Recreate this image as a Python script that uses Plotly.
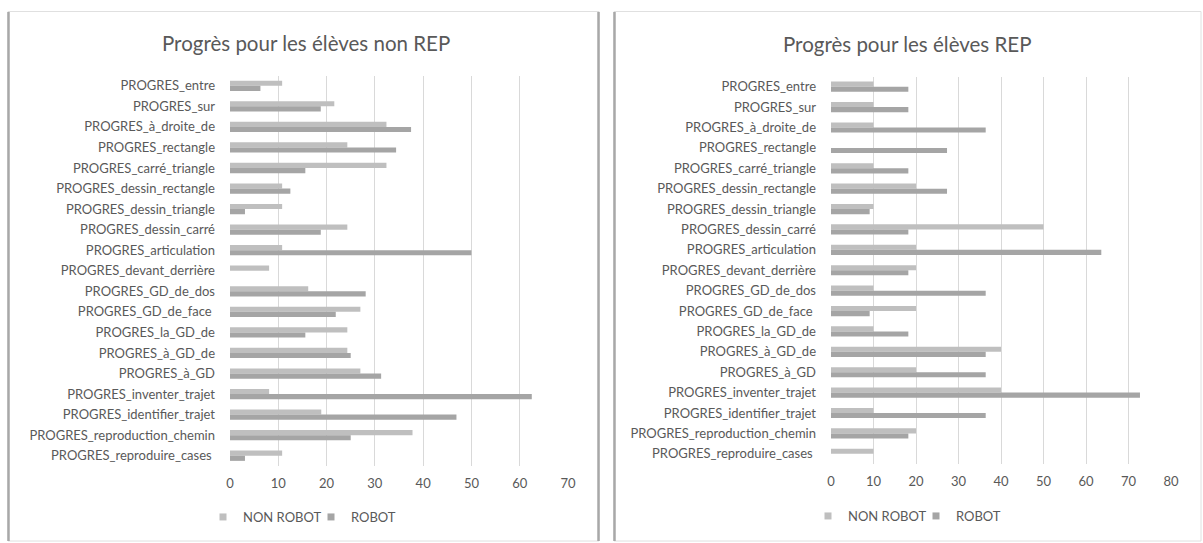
import plotly.graph_objects as go

categories = [
    "PROGRES_entre", "PROGRES_sur", "PROGRES_à_droite_de", "PROGRES_rectangle",
    "PROGRES_carré_triangle", "PROGRES_dessin_rectangle", "PROGRES_dessin_triangle",
    "PROGRES_dessin_carré", "PROGRES_articulation", "PROGRES_devant_derrière",
    "PROGRES_GD_de_dos", "PROGRES_GD_de_face ", "PROGRES_la_GD_de", "PROGRES_à_GD_de",
    "PROGRES_à_GD", "PROGRES_inventer_trajet", "PROGRES_identifier_trajet",
    "PROGRES_reproduction_chemin", "PROGRES_reproduire_cases ",
]

non_rep_non_robot = [10.8, 21.6, 32.4, 24.3, 32.4, 10.8, 10.8, 24.3, 10.8, 8.1,
                     16.2, 27.0, 24.3, 24.3, 27.0, 8.1, 18.9, 37.8, 10.8]
non_rep_robot = [6.3, 18.8, 37.5, 34.4, 15.6, 12.5, 3.1, 18.8, 50.0, 0,
                 28.1, 21.9, 15.6, 25.0, 31.3, 62.5, 46.9, 25.0, 3.1]

rep_non_robot = [10, 10, 10, 0, 10, 20, 10, 50, 20, 20,
                 10, 20, 10, 40, 20, 40, 10, 20, 10]
rep_robot = [18.2, 18.2, 36.4, 27.3, 18.2, 27.3, 9.1, 18.2, 63.6, 18.2,
             36.4, 9.1, 18.2, 36.4, 36.4, 72.7, 36.4, 18.2, 0]

series_names = ["NON ROBOT", "ROBOT"]
titles = ["Progrès pour les élèves non REP", "Progrès pour les élèves REP"]
x_max = [70, 80]

W, H = 1203, 543
FONT = "Lato"
TXT = "#595959"
C_NON = "#bfbfbf"
C_ROB = "#a5a5a5"
COLORS = [C_NON, C_ROB]


def X(px):
    return px / W


def Y(py):
    return 1 - py / H


fig = go.Figure()

panels = [
    ("x", "y", "legend", [non_rep_non_robot, non_rep_robot]),
    ("x2", "y2", "legend2", [rep_non_robot, rep_robot]),
]
for xa, ya, lg, series in panels:
    for name, vals, col in zip(series_names, series, COLORS):
        fig.add_trace(go.Bar(y=categories, x=vals, name=name, orientation="h",
                             marker_color=col, xaxis=xa, yaxis=ya, showlegend=False,
                             hovertemplate="%{y}: %{x}<extra>" + name + "</extra>"))
    # legend keys (small squares, like the original chart)
    for name, col in zip(series_names, COLORS):
        fig.add_trace(go.Scatter(x=[None], y=[None], mode="markers", name=name,
                                 marker=dict(symbol="square", size=7, color=col),
                                 xaxis=xa, yaxis=ya, legend=lg, showlegend=True))

xcommon = dict(showgrid=True, gridcolor="#d9d9d9", gridwidth=1, zeroline=False, showline=False,
               dtick=10, ticks="", tickfont=dict(family=FONT, size=13, color=TXT),
               automargin=False, fixedrange=True, ticklabelstandoff=8)
ycommon = dict(type="category", autorange="reversed", showgrid=False, zeroline=False,
               showline=False, ticks="", tickfont=dict(family=FONT, size=13, color=TXT),
               automargin=False, fixedrange=True, ticklabelstandoff=14)

shapes = []
for (x0, x1) in [(8, 599), (614, 1201)]:
    shapes.append(dict(type="rect", xref="paper", yref="paper", x0=X(x0), x1=X(x1),
                       y0=Y(541), y1=Y(11.5), line=dict(color="#e0e0e0", width=1),
                       fillcolor="rgba(0,0,0,0)", layer="below"))
for xl in [8.5, 598.5, 614.5]:
    shapes.append(dict(type="line", xref="paper", yref="paper", x0=X(xl), x1=X(xl),
                       y0=Y(541), y1=Y(12), line=dict(color="#a8a8a8", width=2.5),
                       layer="below"))

legend_common = dict(orientation="h", xanchor="left", yanchor="middle",
                     font=dict(family=FONT, size=13, color=TXT), bgcolor="rgba(0,0,0,0)",
                     traceorder="normal", entrywidth=63, itemwidth=30, itemsizing="trace")

fig.update_layout(
    width=W, height=H,
    margin=dict(l=0, r=0, t=0, b=0),
    paper_bgcolor="white", plot_bgcolor="white",
    template="none",
    barmode="group", bargap=0.5, bargroupgap=0,
    xaxis=dict(domain=[X(230), X(568)], range=[0, x_max[0]], anchor="y", **xcommon),
    yaxis=dict(domain=[Y(466), Y(75.5)], anchor="x", **ycommon),
    xaxis2=dict(domain=[X(831), X(1171)], range=[0, x_max[1]], anchor="y2", **xcommon),
    yaxis2=dict(domain=[Y(464), Y(76.5)], anchor="x2", **ycommon),
    legend=dict(x=X(203), y=Y(517), **legend_common),
    legend2=dict(x=X(808), y=Y(516), **legend_common),
    shapes=shapes,
    annotations=[
        dict(text=titles[0], xref="paper", yref="paper", x=X(305.5), y=Y(43),
             xanchor="center", yanchor="middle", showarrow=False,
             font=dict(family=FONT, size=20.5, color=TXT)),
        dict(text=titles[1], xref="paper", yref="paper", x=X(907), y=Y(44),
             xanchor="center", yanchor="middle", showarrow=False,
             font=dict(family=FONT, size=20.5, color=TXT)),
    ],
)

fig.write_html("out.html", config={"displayModeBar": False},
               post_script="document.body.style.margin='0px';")
